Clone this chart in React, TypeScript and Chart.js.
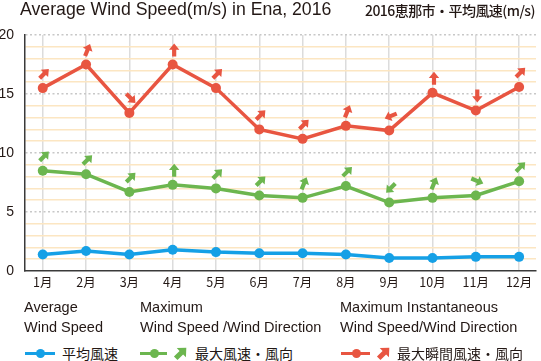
import React, { useEffect, useRef } from "react";
import { Chart, registerables } from "chart.js";

Chart.register(...registerables);

const months = ["1月", "2月", "3月", "4月", "5月", "6月", "7月", "8月", "9月", "10月", "11月", "12月"];
const avgSpeed = [1.4, 1.7, 1.4, 1.8, 1.6, 1.5, 1.5, 1.4, 1.1, 1.1, 1.2, 1.2];
const maxSpeed = [8.5, 8.2, 6.7, 7.3, 7.0, 6.4, 6.2, 7.2, 5.8, 6.2, 6.4, 7.6];
const gustSpeed = [15.5, 17.5, 13.4, 17.5, 15.5, 12.0, 11.2, 12.3, 11.9, 15.1, 13.6, 15.6];
const maxDir = ["NE", "NE", "NE", "N", "NE", "NE", "NNE", "NE", "SW", "NNE", "ESE", "NE"];
const gustDir = ["NE", "NNE", "SE", "N", "NE", "NE", "NE", "NNE", "WSW", "N", "S", "NE"];
const yTicks = [0, 5, 10, 15, 20];

const BLUE = "#15a0e6";
const GREEN = "#6cb64f";
const RED = "#e85541";

const bearing: Record<string, number> = {
  N: 0, NNE: 22.5, NE: 45, ENE: 67.5, E: 90, ESE: 112.5, SE: 135, SSE: 157.5,
  S: 180, SSW: 202.5, SW: 225, WSW: 247.5, W: 270, WNW: 292.5, NW: 315, NNW: 337.5,
};

function drawArrow(ctx: CanvasRenderingContext2D, cx: number, cy: number, deg: number, color: string, L: number) {
  const head = L * 0.48;
  const w = L * 0.32;
  const hw = L * 0.4;
  ctx.save();
  ctx.translate(cx, cy);
  ctx.rotate(((deg - 90) * Math.PI) / 180);
  ctx.fillStyle = color;
  ctx.beginPath();
  ctx.moveTo(-L / 2, -w / 2);
  ctx.lineTo(L / 2 - head, -w / 2);
  ctx.lineTo(L / 2 - head, -hw);
  ctx.lineTo(L / 2, 0);
  ctx.lineTo(L / 2 - head, hw);
  ctx.lineTo(L / 2 - head, w / 2);
  ctx.lineTo(-L / 2, w / 2);
  ctx.closePath();
  ctx.fill();
  ctx.restore();
}

const arrowPlugin = {
  id: "windArrows",
  afterDatasetsDraw(chart: any) {
    const ctx = chart.ctx;
    const dirSets: Record<number, string[]> = { 1: maxDir, 2: gustDir };
    chart.data.datasets.forEach((ds: any, i: number) => {
      const dirs = dirSets[i];
      if (!dirs) return;
      const meta = chart.getDatasetMeta(i);
      meta.data.forEach((pt: any, j: number) => {
        drawArrow(ctx, pt.x + 1.5, pt.y - 14.5, bearing[dirs[j]], ds.borderColor, 13);
      });
    });
  },
};

function LegendArrow({ color, deg }: { color: string; deg: number }) {
  const L = 15, head = 7, w = 5, hw = 6.5;
  const pts = [
    [-L / 2, -w / 2], [L / 2 - head, -w / 2], [L / 2 - head, -hw], [L / 2, 0],
    [L / 2 - head, hw], [L / 2 - head, w / 2], [-L / 2, w / 2],
  ].map((p) => p.join(",")).join(" ");
  return (
    <svg width={18} height={18} viewBox="-9 -9 18 18" style={{ display: "block" }}>
      <polygon points={pts} fill={color} transform={`rotate(${deg - 90})`} />
    </svg>
  );
}

function LineMark({ color, width, dotAt }: { color: string; width: number; dotAt: number }) {
  return (
    <div style={{ position: "relative", width, height: 10 }}>
      <div style={{ position: "absolute", left: 0, top: 3.5, width, height: 3, background: color }} />
      <div style={{ position: "absolute", left: dotAt - 4.5, top: 0.5, width: 9, height: 9, borderRadius: "50%", background: color }} />
    </div>
  );
}

export default function App() {
  const ref = useRef<HTMLCanvasElement | null>(null);

  useEffect(() => {
    if (!ref.current) return;
    const chart = new Chart(ref.current, {
      type: "line",
      data: {
        datasets: [
          { label: "平均風速", data: avgSpeed.map((v, i) => ({ x: i, y: v })), borderColor: BLUE, backgroundColor: BLUE },
          { label: "最大風速・風向", data: maxSpeed.map((v, i) => ({ x: i, y: v })), borderColor: GREEN, backgroundColor: GREEN },
          { label: "最大瞬間風速・風向", data: gustSpeed.map((v, i) => ({ x: i, y: v })), borderColor: RED, backgroundColor: RED },
        ],
      },
      options: {
        responsive: false,
        animation: false,
        layout: { padding: { top: 35, right: 0, left: 0, bottom: 0 } },
        elements: {
          line: { borderWidth: 3.5, tension: 0 },
          point: { radius: 5, borderWidth: 0, hoverRadius: 5 },
        },
        plugins: { legend: { display: false }, tooltip: { enabled: false }, title: { display: false } },
        scales: {
          x: {
            type: "linear",
            min: -0.41,
            max: 11.39,
            afterFit: (s: any) => { s.height = 29; },
            ticks: {
              stepSize: 1,
              includeBounds: false,
              autoSkip: false,
              maxRotation: 0,
              padding: 4,
              color: "#231815",
              font: { family: "'Noto Sans CJK JP', 'Liberation Sans', sans-serif", size: 12.5 },
              callback: (v: any) => months[v as number] ?? "",
            },
            grid: { color: "#dcdcdc", lineWidth: 1.5, drawTicks: false },
            border: { display: true, color: "#3a3a3a", width: 1.5 },
          },
          y: {
            min: 0,
            max: 20,
            afterFit: (s: any) => { s.width = 25; },
            ticks: {
              stepSize: 1,
              autoSkip: false,
              padding: 11,
              color: "#231815",
              font: { family: "'Liberation Sans', Arial, sans-serif", size: 14 },
              callback: (v: any) => (yTicks.includes(v as number) ? String(v) : ""),
            },
            grid: {
              drawTicks: false,
              lineWidth: 1.5,
              color: (c: any) => {
                const v = c.tick ? c.tick.value : 0;
                if (v === 0) return "rgba(0,0,0,0)";
                return v % 5 === 0 ? "#c8c8c8" : "#fce6c2";
              },
            },
            border: {
              display: true,
              color: "#3a3a3a",
              width: 1.5,
              dash: (c: any) => (c.tick && c.tick.value % 5 === 0 ? [2, 2.5] : []),
            },
          },
        },
      } as any,
      plugins: [arrowPlugin],
    });
    return () => chart.destroy();
  }, []);

  const txt: React.CSSProperties = {
    position: "absolute",
    fontFamily: "'Liberation Sans', Arial, sans-serif",
    fontSize: 14.5,
    color: "#231815",
    whiteSpace: "nowrap",
    lineHeight: "20px",
  };
  const jp: React.CSSProperties = {
    position: "absolute",
    fontFamily: "'Noto Sans CJK JP', sans-serif",
    fontSize: 14,
    color: "#231815",
    whiteSpace: "nowrap",
    lineHeight: "18px",
  };

  return (
    <div style={{ position: "fixed", left: 0, top: 0, width: 541, height: 361, background: "#fff", overflow: "hidden" }}>
      <canvas ref={ref} width={541} height={300} style={{ position: "absolute", left: 0, top: 0, display: "block" }} />
      <div style={{ position: "absolute", left: 20, top: -2, fontFamily: "'Liberation Sans', Arial, sans-serif", fontSize: 17.7, color: "#231815", whiteSpace: "nowrap", lineHeight: "22px" }}>
        Average Wind Speed(m/s) in Ena, 2016
      </div>
      <div style={{ position: "absolute", left: 365, top: 0, fontFamily: "'Noto Sans CJK JP', sans-serif", fontSize: 14, fontWeight: 500, letterSpacing: -0.55, color: "#231815", whiteSpace: "nowrap", lineHeight: "20px" }}>
        2016恵那市・平均風速(m/s)
      </div>

      <div style={{ ...txt, left: 24, top: 297 }}>Average<br />Wind Speed</div>
      <div style={{ ...txt, left: 140, top: 297 }}>Maximum<br />Wind Speed /Wind Direction</div>
      <div style={{ ...txt, left: 340, top: 297 }}>Maximum Instantaneous<br />Wind Speed/Wind Direction</div>

      <div style={{ position: "absolute", left: 25, top: 348 }}><LineMark color={BLUE} width={30} dotAt={15} /></div>
      <div style={{ ...jp, left: 62, top: 344 }}>平均風速</div>

      <div style={{ position: "absolute", left: 140, top: 348 }}><LineMark color={GREEN} width={27} dotAt={14} /></div>
      <div style={{ position: "absolute", left: 172, top: 344 }}><LegendArrow color={GREEN} deg={45} /></div>
      <div style={{ ...jp, left: 195, top: 344 }}>最大風速・風向</div>

      <div style={{ position: "absolute", left: 341, top: 348 }}><LineMark color={RED} width={29} dotAt={15} /></div>
      <div style={{ position: "absolute", left: 375, top: 344 }}><LegendArrow color={RED} deg={45} /></div>
      <div style={{ ...jp, left: 397, top: 344 }}>最大瞬間風速・風向</div>
    </div>
  );
}
